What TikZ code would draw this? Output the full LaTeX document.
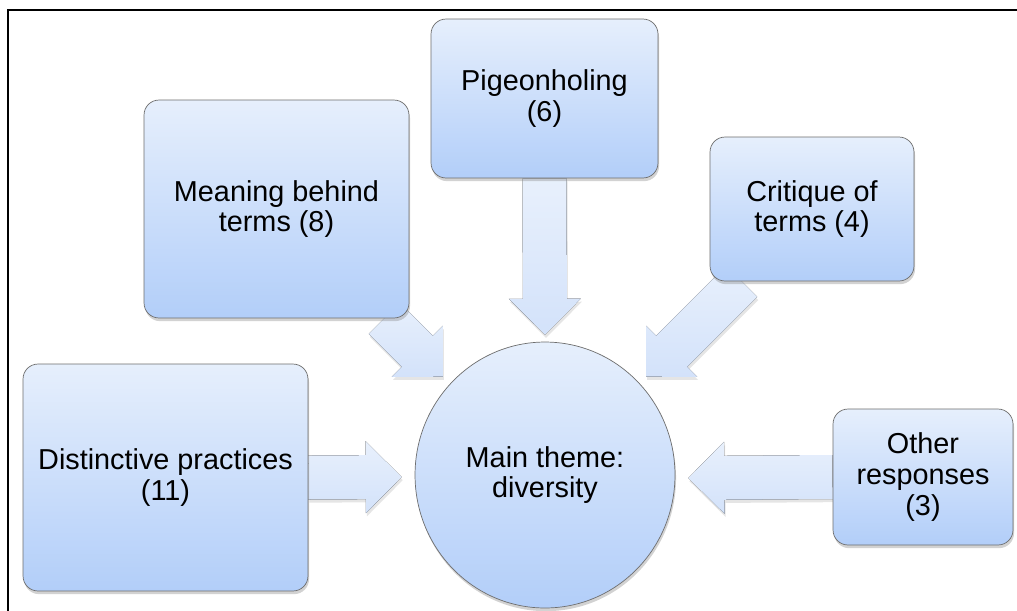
\documentclass[tikz,border=0pt]{standalone}
\usepackage{fontspec}
\setmainfont{Liberation Sans}
\usetikzlibrary{positioning, shapes.geometric, shadows, calc, backgrounds}
\definecolor{boxtop}{HTML}{E6EFFC}
\definecolor{boxbottom}{HTML}{B2CEF9}
\definecolor{boxline}{HTML}{6E6E6E}
\definecolor{flowtop}{HTML}{E8F0FC}
\definecolor{flowbottom}{HTML}{D3E2FA}
\newcommand{\topicfont}{\fontsize{16.4}{17.6}\selectfont}
% block arrow from #1 to tip #2
\newcommand{\flowarrow}[2]{%
  \coordinate (fh) at ($(#2)!0.72cm!(#1)$);
  \fill[flow] ($(#1)!0.44cm!90:(#2)$) -- ($(fh)!0.44cm!90:(#2)$) -- ($(fh)!0.72cm!90:(#2)$) -- (#2)
    -- ($(fh)!0.72cm!-90:(#2)$) -- ($(fh)!0.44cm!-90:(#2)$) -- ($(#1)!0.44cm!-90:(#2)$) -- cycle;}

\begin{document}
\begin{tikzpicture}[
    x=0.02cm, y=-0.02cm,
    topic/.style={draw=boxline, rounded corners=0.3cm, top color=boxtop, bottom color=boxbottom,
      align=center, inner sep=2pt, font=\topicfont,
      drop shadow={shadow xshift=0.6pt, shadow yshift=-1.8pt, opacity=0.35}},
    hub/.style={topic, ellipse, sharp corners},
    flow/.style={top color=flowtop, bottom color=flowbottom,
      drop shadow={shadow xshift=0.6pt, shadow yshift=-1.8pt, opacity=0.2}},
]
\path[use as bounding box] (0,0) rectangle (1017,610);

% Topics
\node[topic, minimum width=4.54cm, minimum height=3.18cm] (pigeon) at (544.5, 98.5) {Pigeonholing\\(6)};
\node[topic, minimum width=5.3cm, minimum height=4.36cm] (meaning) at (276.5, 209) {Meaning behind\\terms (8)};
\node[topic, minimum width=4.08cm, minimum height=2.88cm] (critique) at (812, 209) {Critique of\\terms (4)};
\node[topic, minimum width=5.7cm, minimum height=4.54cm] (practices) at (165.5, 477.5) {Distinctive practices\\(11)};
\node[topic, minimum width=3.6cm, minimum height=2.72cm] (other) at (923, 477) {Other\\responses\\(3)};

% Main theme
\node[hub, minimum width=5.2cm, minimum height=5.32cm] (theme) at (545, 475) {Main theme:\\diversity};

% Arrows into the main theme
\coordinate (practicesout) at (practices.east);
\coordinate (practicestip) at ($(theme.west)+(-13,2)$);
\coordinate (otherout) at (other.west);
\coordinate (othertip) at ($(theme.east)+(13,3)$);
\coordinate (pigeonout) at (pigeon.south);
\coordinate (pigeontip) at ($(theme.north)+(0,-7)$);
\coordinate (meaningout) at ($(meaning.south east)+(-25,0)$);
\coordinate (meaningtip) at ($(theme.north west)+(-10,-4)$);
\coordinate (critiqueout) at ($(critique.south west)+(32,0)$);
\coordinate (critiquetip) at ($(theme.north east)+(9,-4)$);

\begin{scope}[on background layer]
\fill[white] (0,0) rectangle (1017,610);
\flowarrow{practicesout}{practicestip}
\flowarrow{otherout}{othertip}
\flowarrow{pigeonout}{pigeontip}
\flowarrow{meaningout}{meaningtip}
\flowarrow{critiqueout}{critiquetip}
\end{scope}

% Frame
\draw[line width=1.1pt] (8,615) -- (8,10) -- (1025,10);

\end{tikzpicture}
\end{document}
